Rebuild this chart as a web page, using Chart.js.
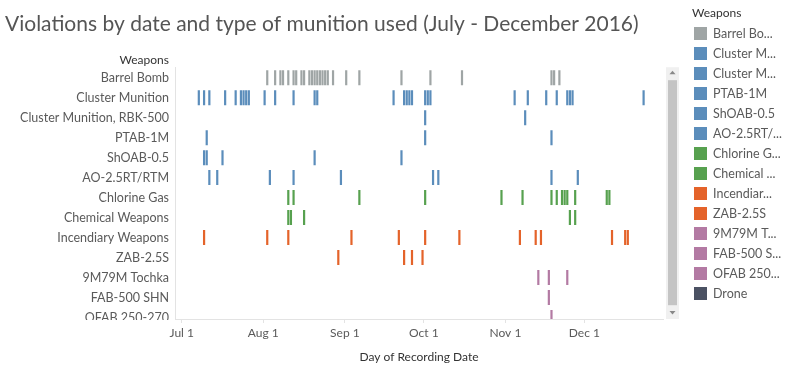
<!DOCTYPE html>
<html>
<head>
<meta charset="utf-8">
<script src="https://cdn.jsdelivr.net/npm/chart.js@4.4.0/dist/chart.umd.min.js"></script>
<style>
  html, body { margin: 0; padding: 0; background: #fff; }
</style>
</head>
<body>
<canvas id="stripChart" width="788" height="370"></canvas>
<script>
const YEAR = 2016;

const weapons = ['Barrel Bomb', 'Cluster Munition', 'Cluster Munition, RBK-500', 'PTAB-1M', 'ShOAB-0.5',
  'AO-2.5RT/RTM', 'Chlorine Gas', 'Chemical Weapons', 'Incendiary Weapons', 'ZAB-2.5S',
  '9M79M Tochka', 'FAB-500 SHN', 'OFAB 250-270', 'Drone'];
// legend text as truncated in the side panel
const legendLabels = ['Barrel Bo...', 'Cluster M...', 'Cluster M...', 'PTAB-1M', 'ShOAB-0.5',
  'AO-2.5RT/...', 'Chlorine G...', 'Chemical ...', 'Incendiar...', 'ZAB-2.5S',
  '9M79M T...', 'FAB-500 S...', 'OFAB 250...', 'Drone'];
const weaponColors = ['#9fa5a5', '#5b8dbb', '#5b8dbb', '#5b8dbb', '#5b8dbb',
  '#5b8dbb', '#57a14f', '#57a14f', '#e4632a', '#e4632a',
  '#b37aa3', '#b37aa3', '#b37aa3', '#4b5263'];

// recording dates (month-day, 2016)
const barrelBomb = ['08-02', '08-05', '08-07', '08-08', '08-10', '08-12', '08-13', '08-15', '08-16', '08-18',
  '08-19', '08-20', '08-21', '08-22', '08-23', '08-24', '08-25', '08-27', '09-01', '09-06',
  '09-22', '10-03', '10-15', '11-18', '11-19', '11-21'];
const clusterMunition = ['07-07', '07-09', '07-11', '07-17', '07-21', '07-23', '07-24', '07-25', '07-26', '08-01',
  '08-05', '08-12', '08-20', '08-21', '09-19', '09-23', '09-24', '09-25', '09-26', '10-01',
  '10-02', '10-03', '11-04', '11-09', '11-16', '11-20', '11-24', '11-25', '11-26', '12-23'];
const rbk500 = ['10-01', '11-08'];
const ptab1m = ['07-10', '10-01', '11-18'];
const shoab05 = ['07-09', '07-10', '07-16', '08-20', '09-22'];
const ao25rt = ['07-11', '07-14', '08-03', '08-12', '08-30', '10-04', '10-06', '11-18', '11-28'];
const chlorineGas = ['08-10', '08-12', '09-06', '10-01', '10-30', '11-07', '11-18', '11-20', '11-22', '11-23',
  '11-24', '11-27', '12-09', '12-10'];
const chemicalWeapons = ['08-10', '08-11', '08-16', '11-25', '11-27'];
const incendiary = ['07-09', '08-02', '08-10', '09-03', '09-21', '10-01', '10-14', '11-06', '11-12', '11-14',
  '12-11', '12-16', '12-17'];
const zab25s = ['08-29', '09-23', '09-26', '09-30'];
const tochka = ['11-13', '11-17', '11-24'];
const fab500 = ['11-17'];
const ofab250 = ['11-18'];
const drone = [];

const weaponDates = [barrelBomb, clusterMunition, rbk500, ptab1m, shoab05, ao25rt, chlorineGas,
  chemicalWeapons, incendiary, zab25s, tochka, fab500, ofab250, drone];

const tickDates = ['07-01', '08-01', '09-01', '10-01', '11-01', '12-01'];
const tickLabels = ['Jul 1', 'Aug 1', 'Sep 1', 'Oct 1', 'Nov 1', 'Dec 1'];

// days since Jul 1
function dayOf(md) {
  const [m, d] = md.split('-').map(Number);
  return (Date.UTC(YEAR, m - 1, d) - Date.UTC(YEAR, 6, 1)) / 86400000;
}

const FONT = 'Lato';

// clip the category labels to the scrolled pane like the original view
const clipLabels = {
  id: 'clipLabels',
  beforeDraw(chart) {
    const y = chart.scales.y;
    if (y._clipWrapped) return;
    const drawLabels = y.drawLabels;
    y.drawLabels = function (area) {
      const c = this.ctx;
      const top = chart.chartArea.top;
      c.save();
      c.beginPath();
      c.rect(0, top - 2, this.right, chart.chartArea.bottom + 3 - top);
      c.clip();
      drawLabels.call(this, area);
      c.restore();
    };
    y._clipWrapped = true;
  }
};

// side legend, pane header and scrollbar
const sidePanel = {
  id: 'sidePanel',
  afterDraw(chart) {
    const c = chart.ctx;
    const area = chart.chartArea;
    c.save();
    c.textBaseline = 'middle';

    c.font = '12px ' + FONT;
    c.fillStyle = '#333';
    c.textAlign = 'right';
    c.fillText('Weapons', area.left - 6, area.top - 7);

    c.textAlign = 'left';
    c.fillText('Weapons', 692, 13);
    c.font = '12.5px ' + FONT;
    legendLabels.forEach((t, i) => {
      const y = 27 + i * 20;
      c.fillStyle = weaponColors[i];
      c.fillRect(694, y, 13, 13);
      c.fillStyle = '#5a5a5a';
      c.fillText(t, 713, y + 7);
    });

    // scrollbar
    c.fillStyle = '#f0f0f0';
    c.fillRect(666, area.top, 13, area.bottom - area.top);
    c.fillStyle = '#c4c4c4';
    c.fillRect(668, area.top + 13, 9, 225);
    c.fillStyle = '#888';
    c.beginPath();
    c.moveTo(669.5, area.top + 7); c.lineTo(675.5, area.top + 7); c.lineTo(672.5, area.top + 3.5);
    c.closePath(); c.fill();
    c.beginPath();
    c.moveTo(669.5, area.bottom - 8); c.lineTo(675.5, area.bottom - 8); c.lineTo(672.5, area.bottom - 4.5);
    c.closePath(); c.fill();
    c.restore();
  }
};

const ctx = document.getElementById('stripChart').getContext('2d');
const stripChart = new Chart(ctx, {
  type: 'scatter',
  data: {
    datasets: weapons.map((w, i) => ({
      label: w,
      // mark sits in the middle of its day
      data: weaponDates[i].map(d => ({ x: dayOf(d) + 0.5, y: i })),
      pointStyle: 'line',
      pointRotation: 90,
      pointRadius: 7.5,
      pointHoverRadius: 7.5,
      pointBorderWidth: 2.2,
      pointBorderColor: weaponColors[i],
      pointBackgroundColor: weaponColors[i],
      clip: 0
    }))
  },
  options: {
    responsive: false,
    animation: false,
    events: [],
    layout: { padding: { left: 5, right: 125, top: 0, bottom: 0 } },
    scales: {
      x: {
        type: 'linear',
        min: -2.55,
        max: 182.87,
        afterBuildTicks: s => { s.ticks = tickDates.map(d => ({ value: dayOf(d) })); },
        afterFit: s => { s.height = 51; },
        ticks: {
          autoSkip: false,
          maxRotation: 0,
          padding: 3,
          color: '#5a5a5a',
          font: { family: FONT, size: 12 },
          callback: v => tickLabels[tickDates.map(dayOf).indexOf(v)]
        },
        grid: { drawOnChartArea: false, drawTicks: true, tickLength: 4, color: '#e3e3e3' },
        border: { color: '#e3e3e3' },
        title: {
          display: true,
          text: 'Day of Recording Date',
          color: '#333',
          font: { family: FONT, size: 12 },
          padding: { top: 4, bottom: 6 }
        }
      },
      y: {
        type: 'linear',
        reverse: true,
        min: -0.525,
        max: 12.075,
        afterBuildTicks: s => {
          s.ticks = weapons.map((w, i) => ({ value: i })).filter(t => t.value <= s.max + 0.5);
        },
        afterFit: s => { s.width = 170; },
        ticks: {
          autoSkip: false,
          padding: 6,
          color: '#5a5a5a',
          font: { family: FONT, size: 12.5 },
          callback: v => weapons[v]
        },
        grid: { display: false, drawTicks: false },
        border: { display: true, color: '#e3e3e3' }
      }
    },
    plugins: {
      legend: { display: false },
      tooltip: { enabled: false },
      title: {
        display: true,
        text: 'Violations by date and type of munition used (July - December 2016)',
        align: 'start',
        color: '#555',
        font: { family: FONT, size: 21, weight: 'normal' },
        padding: { top: 12, bottom: 30 }
      }
    }
  },
  plugins: [clipLabels, sidePanel]
});
</script>
</body>
</html>
